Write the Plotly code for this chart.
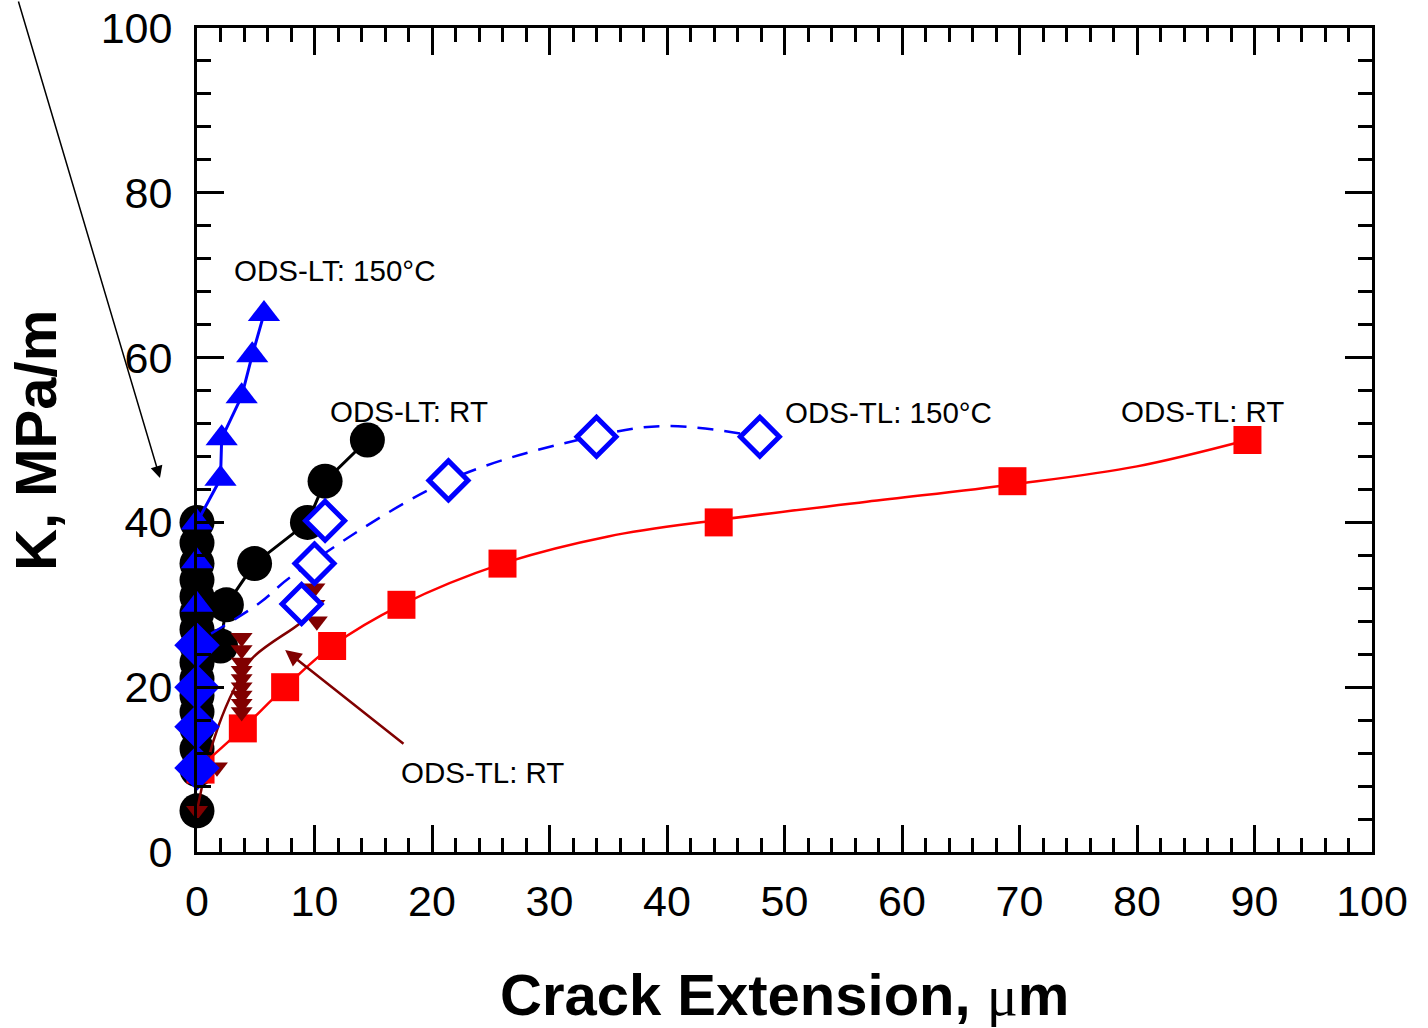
import plotly.graph_objects as go

# ---------------- data ----------------
# ODS-LT: RT (black circles)
lt_rt_x = [0]*16 + [2.0, 2.5, 4.9, 9.4, 10.9, 14.5]
lt_rt_y = [5, 10, 12.5, 15, 17, 19, 21, 23, 25, 27, 29, 31, 33, 35, 37.5, 40,
           25, 30, 35, 40, 45, 50]
lt_rt_line_x = [2.0, 2.5, 4.9, 9.4, 10.9, 14.5]
lt_rt_line_y = [25, 30, 35, 40, 45, 50]

# ODS-LT: 150°C (blue triangles)
lt_150_x = [0, 0, 0, 2.0, 2.1, 3.8, 4.7, 5.7]
lt_150_y = [30, 35.3, 40, 45.3, 50.2, 55.3, 60.3, 65.3]
lt_150_line_x = [0, 2.0, 2.1, 3.8, 4.7, 5.7]
lt_150_line_y = [40, 45.3, 50.2, 55.3, 60.3, 65.3]

# ODS-TL: RT (red squares)
tl_rt_x = [0.3, 3.9, 7.5, 11.5, 17.4, 26.0, 44.4, 69.4, 89.4]
tl_rt_y = [10, 15, 20, 25, 30, 35, 40, 45, 50]
tl_rt_fit_x = [0.8, 3.9, 7.5, 11.5, 17.4, 26.0, 35.0, 44.4, 57.0, 69.4, 80.0, 89.4]
tl_rt_fit_y = [11, 15, 20, 25, 30, 35, 38.3, 40.3, 42.5, 44.6, 46.8, 50]

# ODS-TL: RT (dark red down-triangles)
tl_rt2_x = [0, 1.7, 3.8, 3.8, 3.8, 3.8, 3.8, 3.8, 3.8, 3.8, 3.8, 10.0, 10.0, 10.2]
tl_rt2_y = [5, 10.3, 17, 18, 19, 20, 21, 22, 23, 24.5, 26, 32, 30, 28]
tl_rt2_fit_x = [0, 1.0, 1.8, 3.1, 4.7, 8.8, 10.0]
tl_rt2_fit_y = [5, 11.5, 15.2, 19.6, 23.5, 27.8, 29.5]

# ODS-TL: 150°C filled diamonds at zero extension
tl_150_zero_x = [0, 0, 0, 0]
tl_150_zero_y = [10.2, 15.2, 20, 25.1]

# ODS-TL: 150°C open diamonds
tl_150_x = [8.9, 10.0, 10.9, 21.4, 34.0, 47.9]
tl_150_y = [30.1, 35.0, 40.2, 45.1, 50.4, 50.4]
tl_150_fit_x = [1.2, 5.4, 8.0, 21.4, 34.0, 40.0, 47.9]
tl_150_fit_y = [26.5, 30.3, 33.4, 45.1, 50.5, 51.7, 50.4]

x_ticks = [0, 10, 20, 30, 40, 50, 60, 70, 80, 90, 100]
y_ticks = [0, 20, 40, 60, 80, 100]

BLUE = "#0000FF"
RED = "#FF0000"
BROWN = "#800000"
FONT = "Arial, Liberation Sans, sans-serif"

fig = go.Figure()

def sc(**kw):
    fig.add_trace(go.Scatter(showlegend=False, cliponaxis=False, **kw))

# black circles + line
sc(x=lt_rt_x, y=lt_rt_y, mode="markers",
   marker=dict(symbol="circle", size=35, color="black"))
sc(x=lt_rt_line_x, y=lt_rt_line_y, mode="lines", line=dict(color="black", width=3))

# red squares + fit
sc(x=tl_rt_fit_x, y=tl_rt_fit_y, mode="lines",
   line=dict(color=RED, width=2.5, shape="spline", smoothing=1.0))
sc(x=tl_rt_x, y=tl_rt_y, mode="markers",
   marker=dict(symbol="square", size=28, color=RED))

# dark red triangles + fit
sc(x=tl_rt2_fit_x, y=tl_rt2_fit_y, mode="lines",
   line=dict(color=BROWN, width=2.5, shape="spline"))
sc(x=tl_rt2_x, y=tl_rt2_y, mode="markers",
   marker=dict(symbol="triangle-down", size=19, color=BROWN))

# blue dashed fit + open diamonds
sc(x=tl_150_fit_x, y=tl_150_fit_y, mode="lines",
   line=dict(color=BLUE, width=2.5, dash="16px,11px", shape="spline"))
sc(x=tl_150_x, y=tl_150_y, mode="markers",
   marker=dict(symbol="diamond", size=30, color="white", line=dict(color=BLUE, width=5)))

# blue triangles + line
sc(x=lt_150_line_x, y=lt_150_line_y, mode="lines", line=dict(color=BLUE, width=3))
sc(x=lt_150_x, y=lt_150_y, mode="markers",
   marker=dict(symbol="triangle-up", size=28, color=BLUE))

# blue filled diamonds at zero
sc(x=tl_150_zero_x, y=tl_150_zero_y, mode="markers",
   marker=dict(symbol="diamond", size=35, color=BLUE))

ann_font = dict(family=FONT, size=29.5, color="black")
annotations = [
    dict(x=2.98, y=70.6, text="ODS-LT: 150°C", showarrow=False, xanchor="left", yanchor="middle", font=ann_font),
    dict(x=11.15, y=53.4, text="ODS-LT: RT", showarrow=False, xanchor="left", yanchor="middle", font=ann_font),
    dict(x=49.9, y=53.3, text="ODS-TL: 150°C", showarrow=False, xanchor="left", yanchor="middle", font=ann_font),
    dict(x=78.5, y=53.4, text="ODS-TL: RT", showarrow=False, xanchor="left", yanchor="middle", font=ann_font),
    dict(x=17.2, y=9.7, text="ODS-TL: RT", showarrow=False, xanchor="left", yanchor="middle", font=ann_font),
    # dark red arrow
    dict(x=7.5, y=24.5, ax=17.7, ay=13.0, axref="x", ayref="y", text="", showarrow=True,
         arrowhead=2, arrowsize=1.3, arrowwidth=2.5, arrowcolor=BROWN),
    # black arrow from top-left (outside the plotting area)
    dict(xref="paper", yref="paper", x=-0.0315, y=0.4539, ax=-142, ay=-478,
         text="", showarrow=True,
         arrowhead=2, arrowsize=1.6, arrowwidth=1.5, arrowcolor="black"),
    # axis titles
    dict(xref="paper", yref="paper", x=0.5, y=-0.1735, xanchor="center", yanchor="middle",
         text="<b>Crack Extension, </b><span style=\"font-family:'Liberation Serif', 'Times New Roman', serif\">μ</span><b>m</b>",
         showarrow=False, font=dict(family=FONT, size=58, color="black")),
    dict(xref="paper", yref="paper", x=-0.138, y=0.5, xanchor="center", yanchor="middle",
         text="<b>K, MPa/m</b>", textangle=-90,
         showarrow=False, font=dict(family=FONT, size=58, color="black")),
]

axis_common = dict(
    showline=True, linewidth=3, linecolor="black", mirror="allticks",
    ticks="inside", ticklen=27, tickwidth=3, tickcolor="black",
    showgrid=False, zeroline=False, automargin=False,
    tickfont=dict(family=FONT, size=43, color="black"),
)

fig.update_xaxes(range=[0, 100], tickvals=x_ticks, ticktext=[str(v) for v in x_ticks],
                 minor=dict(dtick=2, ticklen=14, tickwidth=3, ticks="inside", tickcolor="black", showgrid=False),
                 ticklabelstandoff=9, **axis_common)
fig.update_yaxes(range=[0, 100], tickvals=y_ticks, ticktext=[str(v) for v in y_ticks],
                 minor=dict(dtick=4, ticklen=14, tickwidth=3, ticks="inside", tickcolor="black", showgrid=False),
                 ticklabelstandoff=13, **axis_common)

fig.update_layout(
    width=1428, height=1028,
    margin=dict(l=197, r=56, t=28, b=176, pad=0, autoexpand=False),
    plot_bgcolor="white", paper_bgcolor="white",
    annotations=annotations,
    font=dict(family=FONT),
)

fig.write_html("out.html")
